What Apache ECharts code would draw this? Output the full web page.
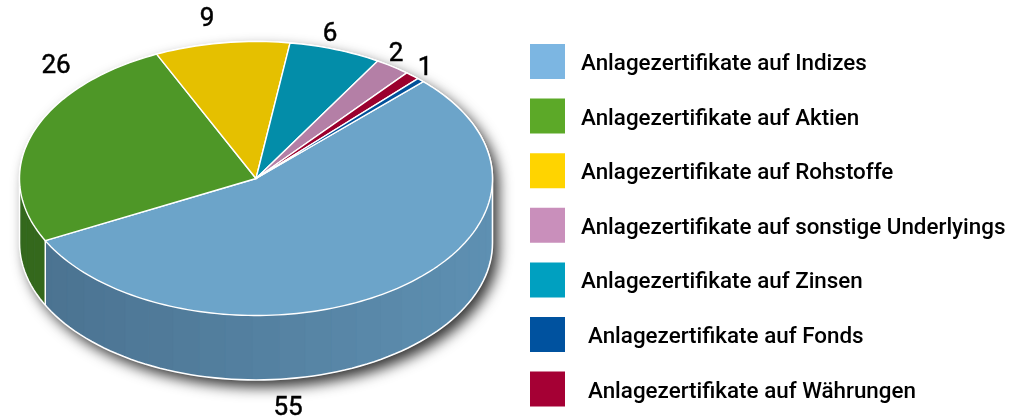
<!DOCTYPE html>
<html>
<head>
    <meta charset="utf-8">
    <title>Anlagezertifikate</title>
    <script src="https://cdn.jsdelivr.net/npm/echarts@6/dist/echarts.min.js"></script>
    <style>
        html, body {margin: 0; padding: 0; background: #fff;}
        #main {width: 1029px; height: 419px;}
    </style>
</head>
<body>
<div id="main"></div>
<script type="text/javascript">
    // legend order
    var categories = [
        'Anlagezertifikate auf Indizes',
        'Anlagezertifikate auf Aktien',
        'Anlagezertifikate auf Rohstoffe',
        'Anlagezertifikate auf sonstige Underlyings',
        'Anlagezertifikate auf Zinsen',
        'Anlagezertifikate auf Fonds',
        'Anlagezertifikate auf Währungen'
    ];
    // slice sizes, the printed labels are the rounded ones
    var values = [55, 25.6, 9.2, 2.4, 6.3, 0.5, 1];
    var valueLabels = ['55', '26', '9', '2', '6', '', '1'];
    var legendColors = ['#7cb6e2', '#5ca928', '#ffd400', '#c98fbb', '#00a0c0', '#00529f', '#a50034'];
    var topColors = ['#6ca4c9', '#4e9727', '#e5c000', '#b47fa6', '#038da9', '#00509a', '#9b002e'];
    // order of the slices clockwise from the start angle
    var sliceOrder = [0, 1, 2, 4, 3, 6, 5];

    // layout of the fake 3d pie
    var cx = 256, cy = 178.5, rx = 236.5, ry = 137, depth = 64.5;
    var startAngle = 45;
    var labelPos = [[288, 408], [56, 66], [207, 19], [396, 54], [330, 34], null, [425, 68]];

    var total = values.reduce(function (a, b) { return a + b; }, 0);

    function px(deg) { return cx + rx * Math.cos(deg * Math.PI / 180); }
    function py(deg) { return cy - ry * Math.sin(deg * Math.PI / 180); }

    function mix(a, b, t) {
        var c = [0, 1, 2].map(function (i) { return Math.round(a[i] + (b[i] - a[i]) * t); });
        return 'rgb(' + c.join(',') + ')';
    }
    var wallBlue = [[74, 113, 143], [94, 144, 178]];
    var wallGreen = [[52, 104, 28], [58, 112, 30]];

    // outline of the whole cake, also carries the drop shadow
    function outline() {
        var pts = [], a;
        for (a = 0; a <= 180; a += 2) pts.push([px(a), py(a)]);
        for (a = 180; a <= 360; a += 2) pts.push([px(a), py(a) + depth]);
        return pts;
    }

    function renderBase() {
        return {
            type: 'group',
            children: [
                {
                    type: 'polygon', z2: 0,
                    shape: {points: outline()},
                    style: {fill: '#5f8fb0', shadowColor: 'rgba(0,0,0,0.8)', shadowBlur: 14, shadowOffsetX: 6, shadowOffsetY: 7}
                },
                {
                    type: 'polygon', z2: 2,
                    shape: {points: outline()},
                    style: {fill: 'none', stroke: '#fff', lineWidth: 1.6}
                }
            ]
        };
    }

    function renderSlice(i) {
        return function (params, api) {
            var from = api.value(0), to = api.value(1);
            var children = [], a, n;

            // front wall, only the part that faces the viewer
            var hi = Math.min(from, 0), lo = Math.max(to, -180);
            var ramp = i === 1 ? wallGreen : wallBlue;
            for (a = hi; a > lo; a -= 6.5) {
                var b = Math.max(a - 6.5, lo);
                var t = (px((a + b) / 2) - (cx - rx)) / (2 * rx);
                var pts = [];
                for (n = 0; n <= 6; n++) {
                    var d = a + (b - a) * n / 6;
                    pts.push([px(d), py(d)]);
                }
                for (n = 6; n >= 0; n--) {
                    var e = a + (b - a) * n / 6;
                    pts.push([px(e), py(e) + depth]);
                }
                var wall = mix(ramp[0], ramp[1], t);
                children.push({type: 'polygon', z2: 1, shape: {points: pts}, style: {fill: wall, stroke: wall, lineWidth: 0.6}});
            }
            // white seam where a slice ends on the front
            if (to > -180 && to < 0) {
                children.push({
                    type: 'line', z2: 2,
                    shape: {x1: px(to), y1: py(to), x2: px(to), y2: py(to) + depth},
                    style: {stroke: '#fff', lineWidth: 1.5}
                });
            }

            // top face
            var top = [[cx, cy]];
            var steps = Math.max(2, Math.ceil((from - to) / 1.5));
            for (n = 0; n <= steps; n++) {
                var f = from + (to - from) * n / steps;
                top.push([px(f), py(f)]);
            }
            children.push({
                type: 'polygon', z2: 3,
                shape: {points: top},
                style: {fill: topColors[i], stroke: '#fff', lineWidth: 1.4, lineJoin: 'round'}
            });

            if (labelPos[i]) {
                children.push({
                    type: 'text', z2: 4,
                    x: labelPos[i][0], y: labelPos[i][1],
                    style: {text: valueLabels[i], fill: '#000', stroke: '#000', lineWidth: 0.5,
                        align: 'center', verticalAlign: 'middle',
                        font: '26px "Liberation Sans Narrow", Roboto'}
                });
            }
            return {type: 'group', children: children};
        };
    }

    var seriesList = [{
        type: 'custom', name: 'base', coordinateSystem: 'none', silent: true,
        renderItem: renderBase, data: [[0]]
    }];
    var angle = startAngle;
    sliceOrder.forEach(function (i) {
        var sweep = values[i] / total * 360;
        seriesList.push({
            type: 'custom',
            name: categories[i],
            coordinateSystem: 'none',
            silent: true,
            renderItem: renderSlice(i),
            data: [[angle, angle - sweep]]
        });
        angle -= sweep;
    });

    var legendFont = {color: '#000', fontFamily: 'Roboto', fontWeight: 500, fontSize: 22.4};

    var myChart = echarts.init(document.getElementById('main'));
    myChart.setOption({
        backgroundColor: '#fff',
        animation: false,
        legend: {
            orient: 'vertical',
            left: 530,
            top: 44,
            padding: 0,
            itemWidth: 35,
            itemHeight: 35,
            itemGap: 19.6,
            icon: 'rect',
            selectedMode: false,
            textStyle: {
                color: '#000', fontFamily: 'Roboto', fontWeight: 500, fontSize: 22.4,
                rich: {
                    a: Object.assign({padding: [6, 0, 0, 11]}, legendFont),
                    // the last two entries sit a little further right in the original
                    b: Object.assign({padding: [6, 0, 0, 18]}, legendFont)
                }
            },
            formatter: function (name) {
                return (categories.indexOf(name) >= 5 ? '{b|' : '{a|') + name + '}';
            },
            data: categories.map(function (name, i) {
                return {name: name, itemStyle: {color: legendColors[i]}};
            })
        },
        series: seriesList
    });
</script>
</body>
</html>
